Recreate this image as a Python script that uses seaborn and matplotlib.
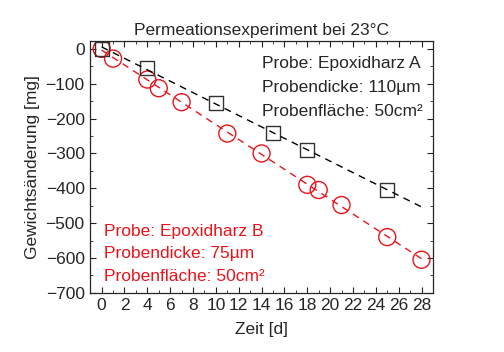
import numpy as np
import pandas as pd
import seaborn as sns
from matplotlib import pyplot as plt
from matplotlib.ticker import MultipleLocator

# Probe A (Quadrate)
zeit_a = [0, 4, 10, 15, 18, 25]
masse_a = [0, -55, -155, -242, -290, -405]
# Probe B (Kreise)
zeit_b = [0, 1, 4, 5, 7, 11, 14, 18, 19, 21, 25, 28]
masse_b = [0, -28, -88, -113, -153, -243, -300, -390, -405, -448, -540, -605]

sns.set_style("ticks")
plt.rcParams['font.family'] = ['Liberation Sans', 'DejaVu Sans']

fig, ax = plt.subplots(figsize=(5.04, 3.52), dpi=100)

# lineare Fits
fit_x = np.linspace(0, 28, 50)
for zx, my, col in [(zeit_a, masse_a, "k"), (zeit_b, masse_b, "#e8141b")]:
    p = np.polyfit(zx, my, 1)
    sns.lineplot(x=fit_x, y=np.polyval(p, fit_x), ax=ax, color=col,
                 linestyle=(0, (5, 4)), linewidth=1)

sns.scatterplot(data=pd.DataFrame({"t": zeit_b, "m": masse_b}), x="t", y="m", ax=ax,
                marker="o", s=150, facecolor="none", edgecolor="#e8141b", linewidth=1)
sns.scatterplot(data=pd.DataFrame({"t": zeit_a, "m": masse_a}), x="t", y="m", ax=ax,
                marker="s", s=100, facecolor="none", edgecolor="#333333", linewidth=1)

ax.set_xlim(-1, 29)
ax.set_ylim(-700, 23)
ax.xaxis.set_major_locator(MultipleLocator(2))
ax.xaxis.set_minor_locator(MultipleLocator(1))
ax.yaxis.set_major_locator(MultipleLocator(100))
ax.yaxis.set_minor_locator(MultipleLocator(50))
ax.tick_params(which="both", direction="in", top=True, right=True, labelsize=12.5,
               color="#222222")
ax.tick_params(which="major", length=4.5, pad=4)
ax.tick_params(which="minor", length=2.5)
for s in ax.spines.values():
    s.set_linewidth(0.9)

ax.set_title("Permeationsexperiment bei 23°C", fontsize=12.5, pad=4)
ax.set_xlabel("Zeit [d]", fontsize=12.5, labelpad=6)
ax.set_ylabel("Gewichtsänderung [mg]", fontsize=12.5, labelpad=4)

ax.text(0.50, 0.94, "Probe: Epoxidharz A\nProbendicke: 110µm\nProbenfläche: 50cm²",
        transform=ax.transAxes, fontsize=12.5, va="top", ha="left", linespacing=1.76)
ax.text(0.041, 0.275, "Probe: Epoxidharz B\nProbendicke: 75µm\nProbenfläche: 50cm²",
        transform=ax.transAxes, fontsize=12.5, va="top", ha="left", linespacing=1.64,
        color="#e8141b")

fig.subplots_adjust(left=0.179, right=0.859, top=0.884, bottom=0.168)
fig.savefig("out.png", dpi=100)
